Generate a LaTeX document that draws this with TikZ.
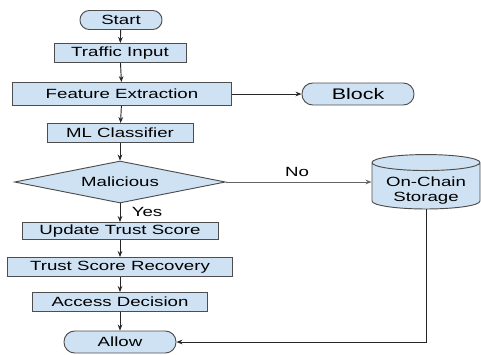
\documentclass[tikz,border=0pt]{standalone}
\usepackage{fontspec}
\setmainfont{Liberation Sans}[FakeStretch=1.4]
\usetikzlibrary{arrows.meta,shapes.geometric}
\definecolor{boxFill}{HTML}{CFE2F3}
\definecolor{boxLine}{HTML}{4D4D4D}

\begin{document}
\begin{tikzpicture}[
    x=0.75pt,y=-0.75pt,
    every node/.style={font=\fontsize{10}{11.25}\selectfont},
    procbox/.style={rectangle,draw=boxLine,fill=boxFill,
                    inner sep=0pt,line width=0.7pt},
    pill/.style={procbox,rounded corners=8pt,
                 minimum width=84pt,minimum height=16.5pt},
    decision/.style={diamond,draw=boxLine,fill=boxFill,aspect=5,
                     inner sep=0pt,line width=0.7pt},
    storebox/.style={cylinder,shape border rotate=90,draw=boxLine,
                     fill=boxFill,aspect=0.2,inner sep=0pt,
                     line width=0.7pt},
    arr/.style={-{Stealth[length=4.5pt,width=3.5pt]},line width=0.7pt,black!85}
  ]
  \useasboundingbox (0,0) rectangle (481,354);
  %% Main column
  \node[pill,minimum width=61.5pt,minimum height=14.25pt,rounded corners=7pt]
        (start) at (121,20) {Start};
  \node[procbox,minimum width=99pt,minimum height=14.25pt]     (traffic) at (120,53)  {Traffic Input};
  \node[procbox,minimum width=164.25pt,minimum height=17.25pt] (feat)    at (122,94)  {Feature Extraction};
  \node[procbox,minimum width=109.5pt,minimum height=14.25pt]  (ml)      at (120,133) {ML Classifier};
  \node[decision,minimum width=158.25pt,minimum height=31.5pt] (mal)     at (120,182) {Malicious};
  \node[procbox,minimum width=147pt,minimum height=12.75pt]    (upd)     at (120,231) {Update Trust Score};
  \node[procbox,minimum width=168.75pt,minimum height=14.25pt] (rec)     at (120,267) {Trust Score Recovery};
  \node[procbox,minimum width=131.25pt,minimum height=14.25pt] (acc)     at (120,302) {Access Decision};
  \node[pill] (allow) at (120,342) {Allow};
  %% Side nodes
  \node[pill,font=\fontsize{11.5}{13}\selectfont] (block) at (358,94) {Block};
  \node[storebox,minimum width=81pt,minimum height=37.5pt] (store) at (426,186)
        {\raisebox{-4pt}[\height][\depth]{\begin{tabular}{@{}c@{}}On-Chain\\Storage\end{tabular}}};
  %% Labels
  \node (yes) at (147,212) {Yes};
  \node (no)  at (297,172) {No};
  %% Flow
  \draw[arr] (start) -- (traffic);
  \draw[arr] (traffic) -- (feat);
  \draw[arr] (feat) -- (ml);
  \draw[arr] (ml) -- (mal);
  \draw[arr] (mal) -- (upd);
  \draw[arr] (upd) -- (rec);
  \draw[arr] (rec) -- (acc);
  \draw[arr] (acc) -- (allow);
  \draw[arr] (feat) -- (block);
  \draw[arr,black!60] (mal.east) -- (mal.east -| store.west);
  \draw[arr] (store.south) |- (allow.east);
\end{tikzpicture}
\end{document}
